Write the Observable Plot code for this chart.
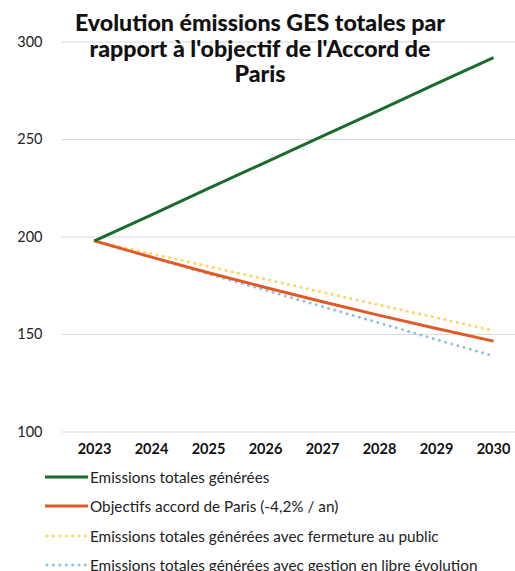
<!DOCTYPE html>
<html>
<head>
<meta charset="utf-8">
<script src="https://cdn.jsdelivr.net/npm/d3@7"></script>
<script src="https://cdn.jsdelivr.net/npm/@observablehq/plot@0.6"></script>
<style>
  html, body { margin: 0; padding: 0; background: #fff; }
  #wrap { position: relative; width: 515px; height: 571px; overflow: hidden; font-family: Lato, "Open Sans", sans-serif; }
  #chart svg { display: block; }
  #title { position: absolute; left: 20px; width: 480px; top: 10px; text-align: center; font-weight: 900; font-size: 23.2px; line-height: 25.5px; color: #111; }
  #legend { position: absolute; left: 45px; top: 462px; font-size: 15.3px; color: #222; white-space: nowrap; }
  .row { height: 29.5px; display: flex; align-items: center; }
  .row svg { margin-right: 1px; }
</style>
</head>
<body>
<div id="wrap">
  <div id="chart"></div>
  <div id="title">Evolution émissions GES totales par<br>rapport à l'objectif de l'Accord de<br>Paris</div>
  <div id="legend"></div>
</div>
<script>
const years = ["2023", "2024", "2025", "2026", "2027", "2028", "2029", "2030"];
const emissionsTotales = [198, 211.4, 224.9, 238.3, 251.7, 265.1, 278.6, 292];
const objectifsParis = [198, 189.7, 181.7, 174.1, 166.8, 159.8, 153.1, 146.6];
const fermeturePublic = [198, 191.4, 184.9, 178.3, 171.7, 165.1, 158.6, 152];
const libreEvolution = [198, 189.6, 181.1, 172.7, 164.3, 155.9, 147.4, 139];
const yTicks = [100, 150, 200, 250, 300];

const seriesNames = [
  "Emissions totales générées",
  "Objectifs accord de Paris (-4,2% / an)",
  "Emissions totales générées avec fermeture au public",
  "Emissions totales générées avec gestion en libre évolution"
];
const seriesValues = [emissionsTotales, objectifsParis, fermeturePublic, libreEvolution];
const colors = ["#1b6b2c", "#df5a26", "#ffd45c", "#8fc3df"];
const dashes = [null, null, "0.01 6.4", "0.01 6.4"];

const data = seriesValues.flatMap((vals, i) => vals.map((v, j) => ({series: seriesNames[i], year: years[j], value: v})));

const lineMarks = seriesNames.map((name, i) => Plot.line(data.filter(d => d.series === name), {
  x: "year", y: "value",
  stroke: colors[i], strokeWidth: 3,
  strokeDasharray: dashes[i] || undefined,
  strokeLinecap: dashes[i] ? "round" : "butt",
  strokeLinejoin: "round"
}));

const chart = Plot.plot({
  width: 515,
  height: 465,
  marginLeft: 62,
  marginRight: 0,
  marginTop: 41.5,
  marginBottom: 33.5,
  style: { fontFamily: "Lato, 'Open Sans', sans-serif", background: "#fff" },
  x: { type: "point", domain: years, range: [92, 494], padding: 0, label: null },
  y: { domain: [100, 300], ticks: yTicks, label: null },
  marks: [
    Plot.ruleY(yTicks, { stroke: "#d9d9d9", strokeWidth: 1 }),
    Plot.axisY({ ticks: yTicks, tickSize: 0, tickPadding: 20, fontSize: 14.5, fill: "#222", label: null }),
    Plot.axisX({ tickSize: 0, tickPadding: 12, fontSize: 14.5, fontWeight: "bold", fill: "#111", label: null }),
    ...lineMarks.reverse()
  ]
});
document.getElementById("chart").appendChild(chart);

const legend = document.getElementById("legend");
seriesNames.forEach((name, i) => {
  const row = document.createElement("div");
  row.className = "row";
  const ns = "http://www.w3.org/2000/svg";
  const s = document.createElementNS(ns, "svg");
  s.setAttribute("width", 44); s.setAttribute("height", 6);
  const l = document.createElementNS(ns, "line");
  l.setAttribute("x1", dashes[i] ? 2 : 0); l.setAttribute("x2", 43);
  l.setAttribute("y1", 3); l.setAttribute("y2", 3);
  l.setAttribute("stroke", colors[i]); l.setAttribute("stroke-width", 3);
  if (dashes[i]) { l.setAttribute("stroke-dasharray", dashes[i]); l.setAttribute("stroke-linecap", "round"); }
  s.appendChild(l);
  row.appendChild(s);
  const t = document.createElement("span");
  t.textContent = name;
  row.appendChild(t);
  legend.appendChild(row);
});
</script>
</body>
</html>
